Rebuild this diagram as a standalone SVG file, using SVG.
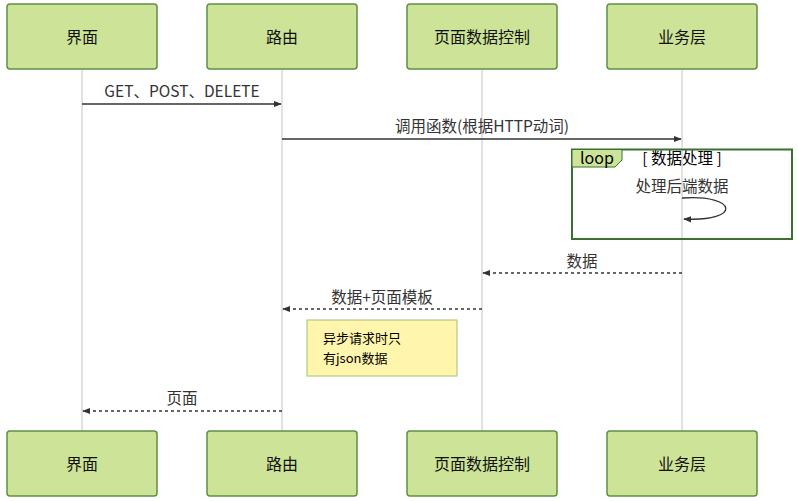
<svg xmlns="http://www.w3.org/2000/svg" width="798" height="501" viewBox="0 0 798 501">
<style>
text{font-family:"Noto Sans CJK SC","Liberation Sans",sans-serif;fill:#333}
.box rect{fill:#cde498;stroke:#5f8f45;stroke-width:1.5}
.box text{font-size:16px;fill:#111;text-anchor:middle}
.life{stroke:#d9d9d9;stroke-width:1.5}
.msg{stroke:#333;stroke-width:1.3;fill:none}
.dash{stroke-dasharray:3,3}
.lbl{font-size:15.5px;text-anchor:middle}
</style>
<defs>
<marker id="ah" viewBox="0 0 10 10" refX="9" refY="5" markerWidth="8" markerHeight="8" orient="auto-start-reverse" markerUnits="userSpaceOnUse">
<path d="M0,1 L10,5 L0,9 z" fill="#333"/>
</marker>
</defs>
<rect width="798" height="501" fill="#fff"/>
<g id="lifelines">
<line class="life" x1="82" y1="69" x2="82" y2="431"/>
<line class="life" x1="282" y1="69" x2="282" y2="431"/>
<line class="life" x1="482" y1="69" x2="482" y2="431"/>
<line class="life" x1="682" y1="69" x2="682" y2="431"/>
</g>
<g id="n1" class="box"><rect x="7" y="4" width="150" height="65" rx="3"/><text x="82" y="43">界面</text></g>
<g id="n2" class="box"><rect x="207" y="4" width="150" height="65" rx="3"/><text x="282" y="43">路由</text></g>
<g id="n3" class="box"><rect x="407" y="4" width="150" height="65" rx="3"/><text x="482" y="43">页面数据控制</text></g>
<g id="n4" class="box"><rect x="607" y="4" width="150" height="65" rx="3"/><text x="682" y="43">业务层</text></g>
<g id="n1b" class="box"><rect x="7" y="431" width="150" height="65" rx="3"/><text x="82" y="470">界面</text></g>
<g id="n2b" class="box"><rect x="207" y="431" width="150" height="65" rx="3"/><text x="282" y="470">路由</text></g>
<g id="n3b" class="box"><rect x="407" y="431" width="150" height="65" rx="3"/><text x="482" y="470">页面数据控制</text></g>
<g id="n4b" class="box"><rect x="607" y="431" width="150" height="65" rx="3"/><text x="682" y="470">业务层</text></g>
<g id="loop">
<rect x="572" y="149.5" width="220" height="89.5" fill="none" stroke="#3a7030" stroke-width="2"/>
<path d="M572,149.5 H622 V160 L615,167 H572 Z" fill="#cde498" stroke="#3a7030" stroke-width="1"/>
<text x="580" y="164" style="font-size:16px;fill:#000">loop</text>
<text x="682" y="164" style="font-size:15.5px;fill:#000;text-anchor:middle">[ 数据处理 ]</text>
</g>
<g id="note">
<rect x="307" y="320" width="150" height="56" fill="#fff5ad" stroke="#9cc475" stroke-width="1"/>
<text x="323" y="343" style="font-size:13px;fill:#000">异步请求时只</text>
<text x="323" y="362.5" style="font-size:13px;fill:#000">有json数据</text>
</g>
<g id="connectors">
<line class="msg" x1="82" y1="104" x2="281" y2="104" marker-end="url(#ah)"/>
<text class="lbl" x="182" y="97">GET、POST、DELETE</text>
<line class="msg" x1="282" y1="139" x2="681" y2="139" marker-end="url(#ah)"/>
<text class="lbl" x="482" y="132">调用函数(根据HTTP动词)</text>
<text class="lbl" x="682" y="192">处理后端数据</text>
<path class="msg" d="M682,198 C738,194 742,222 684,219" marker-end="url(#ah)"/>
<line class="msg dash" x1="682" y1="273" x2="483" y2="273" marker-end="url(#ah)"/>
<text class="lbl" x="582" y="267">数据</text>
<line class="msg dash" x1="482" y1="309" x2="283" y2="309" marker-end="url(#ah)"/>
<text class="lbl" x="382" y="303">数据+页面模板</text>
<line class="msg dash" x1="282" y1="411" x2="83" y2="411" marker-end="url(#ah)"/>
<text class="lbl" x="182" y="404">页面</text>
</g>
</svg>
